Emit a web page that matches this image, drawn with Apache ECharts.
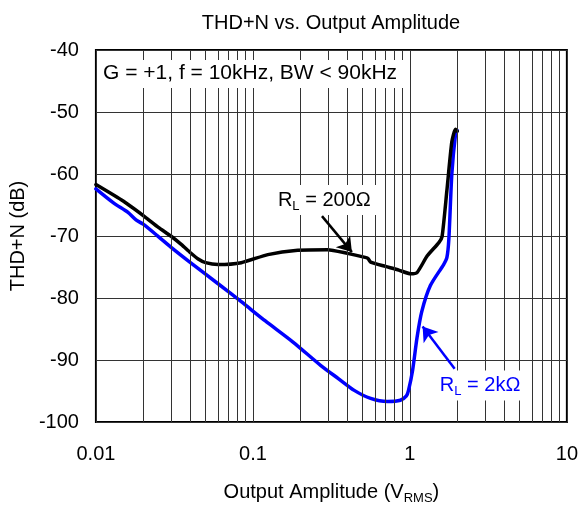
<!DOCTYPE html>
<html><head><meta charset="utf-8">
<script src="https://cdn.jsdelivr.net/npm/echarts@6/dist/echarts.min.js"></script>
<style>html,body{margin:0;padding:0;background:#fff}#c{width:581px;height:510px}</style>
</head><body><div id="c"></div>
<script>
const titleText = 'THD+N vs. Output Amplitude';
const condText = 'G = +1, f = 10kHz, BW < 90kHz';
const xTickValues = [0.01, 0.1, 1, 10];
const yTickValues = [-100, -90, -80, -70, -60, -50, -40];
const minorX = [0.02,0.03,0.04,0.05,0.06,0.07,0.08,0.09,0.2,0.3,0.4,0.5,0.6,0.7,0.8,0.9,2,3,4,5,6,7,8,9];

const x200 = [0.01, 0.015, 0.0205, 0.025, 0.03, 0.0351, 0.04, 0.0448, 0.05, 0.06, 0.0843, 0.1245, 0.193, 0.299, 0.4, 0.51, 0.54, 0.562, 0.7, 0.85, 1.01, 1.11, 1.29, 1.525, 1.603, 1.72, 1.85, 1.95, 2.0];
const y200 = [-61.7, -64.4, -66.9, -68.6, -70.0, -71.4, -72.7, -73.7, -74.3, -74.6, -74.3, -73.0, -72.3, -72.2, -72.8, -73.4, -73.6, -74.2, -74.9, -75.5, -76.1, -75.9, -73.2, -71.1, -70.1, -62.7, -54.8, -52.8, -53.1];

const x2k = [0.01, 0.013, 0.016, 0.018, 0.02, 0.025, 0.03, 0.04, 0.06, 0.0843, 0.12, 0.18, 0.271, 0.35, 0.442, 0.562, 0.719, 0.87, 0.95, 0.98, 1.04, 1.11, 1.19, 1.35, 1.64, 1.72, 1.77, 1.85, 1.95, 2.0];
const y2k = [-62.4, -64.7, -66.2, -67.4, -68.1, -70.1, -71.8, -74.3, -77.7, -80.6, -83.7, -87.1, -90.9, -93.0, -94.9, -96.2, -96.7, -96.5, -95.8, -94.9, -91.7, -86.4, -82.2, -78.0, -74.6, -73.5, -70.6, -60.0, -53.7, -53.0];

const label200 = {coord: [0.285, -64.2]};
const arrow200 = [[0.2754, -66.8], [0.427, -72.6]];
const label2k = {coord: [2.80, -94.1]};
const arrow2k = [[1.928, -91.4], [1.205, -84.6]];

const FONT = 'Liberation Sans, Arial, sans-serif';
const chart = echarts.init(document.getElementById('c'), null, {renderer: 'canvas'});

const subRich = (color) => ({
  a: {fontSize: 20, fontFamily: FONT, color: color},
  s: {fontSize: 13, fontFamily: FONT, color: color, verticalAlign: 'bottom', padding: [12, 0, 0, 0]}
});

chart.setOption({
  animation: false,
  backgroundColor: '#fff',
  title: {
    text: titleText, left: 326, top: 8, textAlign: 'center',
    textStyle: {fontFamily: FONT, fontSize: 20, fontWeight: 'normal', color: '#000'}
  },
  grid: {left: 94.6, top: 50, width: 473, height: 379, show: true, borderColor: '#000', borderWidth: 2, backgroundColor: 'transparent'},
  xAxis: {
    type: 'log', logBase: 10, min: 0.01, max: 10,
    axisLine: {show: false}, axisTick: {show: false},
    axisLabel: {fontFamily: FONT, fontSize: 20, color: '#000', margin: 22,
      formatter: v => { const t = xTickValues.find(q => Math.abs(q - v) / q < 1e-6); return t === undefined ? '' : String(t); }},
    splitLine: {show: true, lineStyle: {color: '#333', width: 1}},
    name: '{a|Output Amplitude (V}{s|RMS}{a|)}',
    nameLocation: 'middle', nameGap: 58,
    nameTextStyle: {rich: subRich('#000')}
  },
  yAxis: {
    type: 'value', min: -100, max: -40, interval: 10,
    axisLine: {show: false}, axisTick: {show: false},
    axisLabel: {fontFamily: FONT, fontSize: 20, color: '#000', margin: 17,
      formatter: v => yTickValues.includes(v) ? String(v) : ''},
    splitLine: {show: true, lineStyle: {color: '#333', width: 1}},
    name: 'THD+N (dB)', nameLocation: 'middle', nameGap: 62, nameRotate: 90,
    nameTextStyle: {fontFamily: FONT, fontSize: 20, color: '#000'}
  },
  graphic: [
    {type: 'rect', left: 97, top: 60, z: 100, shape: {x: 0, y: 0, width: 308, height: 28}, style: {fill: '#fff'}},
    {type: 'text', left: 103, top: 63, z: 101, style: {text: condText, font: '21px ' + FONT, fill: '#000'}}
  ],
  series: [
    {
      type: 'line', data: [], z: 1, silent: true,
      markLine: {
        silent: true, symbol: ['none', 'none'], animation: false,
        label: {show: false},
        lineStyle: {color: '#333', width: 1, type: 'solid'},
        data: minorX.map(v => ({xAxis: v}))
      }
    },
    {
      name: 'RL200', type: 'line', z: 4, smooth: 0.2, symbol: 'none',
      data: x200.map((x, i) => [x, y200[i]]),
      lineStyle: {color: '#000', width: 3.5, cap: 'round', join: 'round'},
      markPoint: {
        symbol: 'rect', symbolSize: [112, 30], itemStyle: {color: '#fff'}, z: 5,
        label: {show: true, position: 'inside', formatter: '{a|R}{s|L}{a| = 200Ω}', rich: subRich('#000')},
        data: [{coord: label200.coord}]
      },
      markLine: {
        silent: true, symbol: ['none', 'arrow'], symbolSize: 14,
        label: {show: false}, lineStyle: {color: '#000', width: 2.5, type: 'solid'},
        itemStyle: {color: '#000'},
        data: [[{coord: arrow200[0], symbol: 'none'}, {coord: arrow200[1], symbol: 'arrow', symbolSize: 14}]]
      }
    },
    {
      name: 'RL2k', type: 'line', z: 3, smooth: 0.25, symbol: 'none',
      data: x2k.map((x, i) => [x, y2k[i]]),
      lineStyle: {color: '#0000ff', width: 3.5, cap: 'round', join: 'round'},
      markPoint: {
        symbol: 'rect', symbolSize: [98, 30], itemStyle: {color: '#fff'}, z: 5,
        label: {show: true, position: 'inside', formatter: '{a|R}{s|L}{a| = 2kΩ}', rich: subRich('#0000ff')},
        data: [{coord: label2k.coord}]
      },
      markLine: {
        silent: true, symbol: ['none', 'arrow'], symbolSize: 14,
        label: {show: false}, lineStyle: {color: '#0000ff', width: 2.5, type: 'solid'},
        itemStyle: {color: '#0000ff'},
        data: [[{coord: arrow2k[0], symbol: 'none'}, {coord: arrow2k[1], symbol: 'arrow', symbolSize: 14}]]
      }
    }
  ]
});
</script></body></html>
